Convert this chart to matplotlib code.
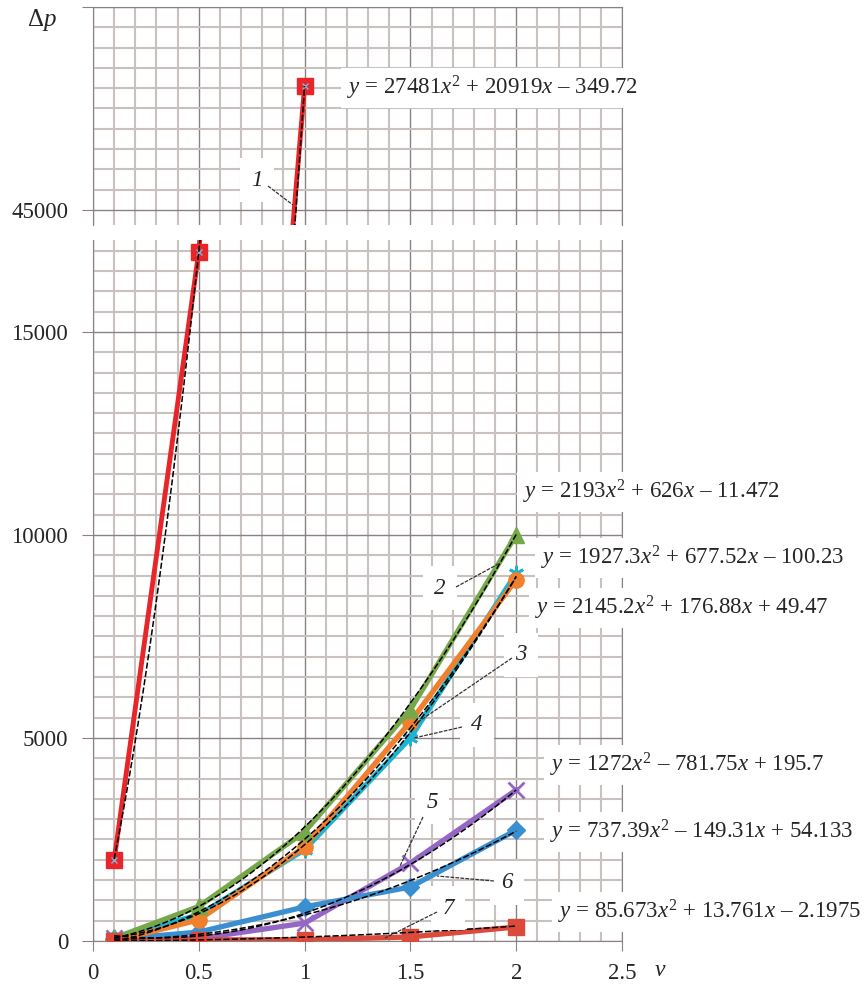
import matplotlib
matplotlib.use('Agg')
import matplotlib.pyplot as plt
from matplotlib.lines import Line2D
from matplotlib.ticker import MultipleLocator
import numpy as np

plt.rcParams['font.family'] = 'Liberation Serif'
plt.rcParams['mathtext.fontset'] = 'custom'
plt.rcParams['mathtext.rm'] = 'Liberation Serif'
plt.rcParams['mathtext.it'] = 'Liberation Serif:italic'

# data
v = [0.1, 0.5, 1.0, 1.5, 2.0]
v1 = [0.1, 0.5, 1.0]
dp1 = [1995, 16980, 48050]
dp2 = [70, 850, 2690, 5700, 10010]
dp3 = [0, 520, 2320, 5400, 8900]
dp4 = [90, 640, 2250, 5000, 9060]
dp5 = [80, 60, 440, 1920, 3720]
dp6 = [40, 220, 840, 1330, 2730]
dp7 = [0, 30, 30, 100, 345]

# trendline coefficients (from the equation labels)
fit1 = [27481, 20919, -349.72]
fit2 = [2193, 626, -11.472]
fit3 = [2145.2, 176.88, 49.47]
fit4 = [1927.3, 677.52, -100.23]
fit5 = [1272, -781.75, 195.7]
fit6 = [737.39, -149.31, 54.133]
fit7 = [85.673, 13.761, -2.1975]

eq_labels = [
    r'$y$ = 27481$x^2$ + 20919$x$ – 349.72',
    r'$y$ = 2193$x^2$ + 626$x$ – 11.472',
    r'$y$ = 1927.3$x^2$ + 677.52$x$ – 100.23',
    r'$y$ = 2145.2$x^2$ + 176.88$x$ + 49.47',
    r'$y$ = 1272$x^2$ – 781.75$x$ + 195.7',
    r'$y$ = 737.39$x^2$ – 149.31$x$ + 54.133',
    r'$y$ = 85.673$x^2$ + 13.761$x$ – 2.1975',
]

W, H = 864, 991
fig = plt.figure(figsize=(W / 100, H / 100), dpi=100)


def fp(x, y):
    # figure pixel (from top-left) -> figure fraction
    return x / W, 1 - y / H


minor_c = '#c9c1be'
major_c = '#8a8282'
txt_c = '#262626'

ax_lo = fig.add_axes([93 / W, (H - 941) / H, (622 - 93) / W, (941 - 240) / H])
ax_hi = fig.add_axes([93 / W, (H - 225) / H, (622 - 93) / W, (225 - 7) / H])

ax_lo.set_ylim(0, 17266)
ax_hi.set_ylim(44630, 50000)

for ax in (ax_lo, ax_hi):
    ax.set_xlim(0, 2.5)
    ax.set_axisbelow(True)
    ax.xaxis.set_major_locator(MultipleLocator(0.5))
    ax.xaxis.set_minor_locator(MultipleLocator(0.1))
    ax.yaxis.set_major_locator(MultipleLocator(5000))
    ax.yaxis.set_minor_locator(MultipleLocator(500))
    ax.grid(which='minor', color=minor_c, lw=1.5)
    ax.grid(which='major', color=major_c, lw=1.0)
    for sp in ax.spines.values():
        sp.set_color(major_c)
    ax.tick_params(which='major', axis='y', length=8, color=major_c,
                   labelsize=16.5, pad=10, labelcolor=txt_c)
    ax.tick_params(which='minor', length=0)
    ax.tick_params(axis='x', which='major', length=7, color=major_c,
                   labelsize=16.5, pad=9, labelcolor=txt_c)

ax_lo.spines['top'].set_visible(False)
ax_hi.spines['bottom'].set_visible(False)
ax_hi.tick_params(axis='x', which='both', length=0, labelbottom=False)
ax_hi.set_yticks([45000, 50000])
ax_hi.set_yticklabels(['45000', ''])
ax_lo.set_yticks([0, 5000, 10000, 15000])
ax_lo.set_xticks([0, 0.5, 1, 1.5, 2, 2.5])
ax_lo.set_xticklabels(['0', '0.5', '1', '1.5', '2', '2.5'])

series = [
    (v, dp5, '#9467c4', 'x', 11),
    (v, dp6, '#3a8fd0', 'D', 9),
    (v, dp4, '#1fb3d1', (6, 2, 0), 11),
    (v, dp3, '#f0802e', 'o', 11),
    (v, dp2, '#76a84a', '^', 11),
    (v, dp7, '#dc4a3c', 's', 11),
]

for ax in (ax_lo, ax_hi):
    ax.plot(v1, dp1, color='#e8262a', lw=3.5, marker='s', ms=11,
            mfc='#e8262a', mec='#e8262a', zorder=3)
    ax.plot(v1, dp1, ls='none', marker='x', ms=5, mew=1.0, color='#7fb2dd', zorder=3.5)
    xx = np.linspace(v1[0], v1[-1], 200)
    ax.plot(xx, np.polyval(fit1, xx), color='black', lw=1.1, ls=(0, (4, 1.5)), zorder=4)

for xs, ys, c, m, ms in series:
    mew = 2 if m in ('x', (6, 2, 0)) else 1
    ax_lo.plot(xs, ys, color=c, lw=3.8, marker=m, ms=ms, mew=mew, mec=c, mfc=c, zorder=3)

xx = np.linspace(0.1, 2.0, 300)
for coef in (fit2, fit3, fit4, fit5, fit6, fit7):
    ax_lo.plot(xx, np.polyval(coef, xx), color='black', lw=1.1, ls=(0, (4, 1.5)), zorder=4)

# equation labels
eq_pos = [(347, 88), (523, 492), (541, 558), (535, 608), (550, 765), (550, 832), (558, 912)]
for (px, py), s in zip(eq_pos, eq_labels):
    fx, fy = fp(px, py)
    fig.text(fx, fy, s, fontsize=16.5, ha='left', va='center', color=txt_c,
             bbox=dict(boxstyle='square,pad=0.25', facecolor='white', edgecolor='none'),
             zorder=10)

# curve numbers and leader lines
num_pos = [('1', 257, 180), ('2', 440, 588), ('3', 521, 655), ('4', 477, 725),
           ('5', 432, 802), ('6', 507, 883), ('7', 448, 908)]
leaders = [((268, 186), (293, 205)), ((456, 587), (500, 563)), ((512, 658), (418, 722)),
           ((462, 727), (414, 738)), ((423, 817), (400, 866)), ((494, 881), (437, 876)),
           ((437, 912), (385, 938))]
for (t, px, py), (p0, p1) in zip(num_pos, leaders):
    fx, fy = fp(px, py)
    fig.text(fx, fy, t, fontsize=16.5, style='italic', ha='center', va='center',
             color=txt_c,
             bbox=dict(boxstyle='square,pad=0.5', facecolor='white', edgecolor='none'),
             zorder=10)
    a, b = fp(*p0), fp(*p1)
    fig.add_artist(Line2D([a[0], b[0]], [a[1], b[1]], transform=fig.transFigure,
                          color='#333333', lw=0.9, ls=(0, (3, 1)), zorder=11))

fx, fy = fp(42, 20)
fig.text(fx, fy, r'$\Delta p$', fontsize=18, ha='center', va='center', color=txt_c)
fx, fy = fp(660, 970)
fig.text(fx, fy, 'v', fontsize=17, style='italic', ha='center', va='center', color=txt_c)

plt.savefig('out.png', dpi=100, facecolor='white')
